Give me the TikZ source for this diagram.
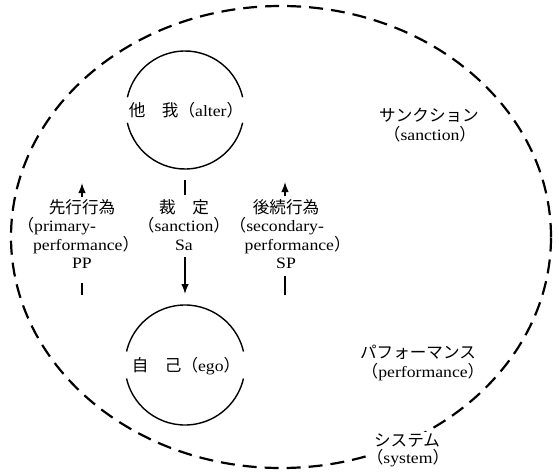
\documentclass[tikz,border=0pt]{standalone}
\usepackage{fontspec}
\setmainfont{Liberation Serif}[FakeStretch=1.12]
\newfontfamily\jpfont{Noto Sans CJK JP}[Scale=1.05]
\newfontfamily\jphalt{Noto Sans CJK JP}[Scale=1.05, RawFeature=+halt]
\usetikzlibrary{arrows.meta}
\newcommand\jtext[1]{{\jpfont #1}}
\newcommand\lpar{{\jphalt （}}
\newcommand\rpar{{\jphalt ）}}
\tikzset{
  lbl/.style={font=\fontsize{15.8}{18.3}\selectfont, align=center, inner sep=0pt},
  ring/.style={line width=1.4pt},
  sys/.style={line width=2.2pt, dash pattern=on 14pt off 8pt},
  ln/.style={line width=1.4pt},
  arr/.style={line width=1.4pt, -{Latex[length=10pt,width=7.5pt]}},
  hole/.style={circle, inner sep=0pt}
}
\begin{document}
\begin{tikzpicture}[x=1pt,y=1pt]
\useasboundingbox (0,0) rectangle (559,-471);
% system boundary
\draw[sys] (281,-237) ellipse [x radius=270, y radius=231];
% alter
\node[hole, minimum size=118pt] (alter) at (185,-110) {};
\draw[ring] ([shift={(12.5:59)}]alter.center) arc[start angle=12.5, end angle=167.5, radius=59];
\draw[ring] ([shift={(192.5:59)}]alter.center) arc[start angle=192.5, end angle=347.5, radius=59];
\node[lbl] (altertxt) at (186,-110) {\jtext{他　我（}alter\jtext{）}};
% ego
\node[hole, minimum size=120pt] (ego) at (185,-365) {};
\draw[ring] ([shift={(13:60)}]ego.center) arc[start angle=13, end angle=167, radius=60];
\draw[ring] ([shift={(193:60)}]ego.center) arc[start angle=193, end angle=347, radius=60];
\node[lbl] (egotxt) at (186,-366) {\jtext{自　己（}ego\jtext{）}};
% columns
\node[lbl] (pp) at (82,-234) {\jtext{先行行為}\\\hspace*{-42pt}\lpar primary-\\performance\rpar\\PP};
\node[lbl] (sa) at (184,-225) {\jtext{裁　定}\\\lpar sanction\rpar\\Sa};
\node[lbl] (sp) at (286,-234) {\jtext{後続行為}\\\hspace*{-10pt}\lpar secondary-\\\hspace*{15pt}performance\rpar\\SP};
% connectors
\coordinate (pa1) at (82,-197); \coordinate (pa2) at (82,-183);
\coordinate (pb1) at (82,-283); \coordinate (pb2) at (82,-295);
\coordinate (ma1) at (185,-180); \coordinate (ma2) at (185,-195);
\coordinate (mb1) at (185,-257); \coordinate (mb2) at (185,-294);
\coordinate (sa1) at (285,-196); \coordinate (sa2) at (285,-182);
\coordinate (sb1) at (285,-276); \coordinate (sb2) at (285,-295);
\draw[arr] (pa1) -- (pa2);
\draw[ln] (pb1) -- (pb2);
\draw[ln] (ma1) -- (ma2);
\draw[arr] (mb1) -- (mb2);
\draw[arr] (sa1) -- (sa2);
\draw[ln] (sb1) -- (sb2);
% right-side labels
\node[lbl] (sanctionj) at (429,-115) {\jtext{サンクション}};
\node[lbl] (sanctione) at (430,-134) {\lpar sanction\rpar};
\node[lbl] (perfj) at (418,-352) {\jtext{パフォーマンス}};
\node[lbl] (perfe) at (423,-372) {\lpar performance\rpar};
\node[lbl, fill=white, inner sep=2pt] (sysj) at (407,-441) {\jtext{システム}};
\node[lbl, fill=white, inner sep=2pt] (syse) at (408,-458) {\lpar system\rpar};
\end{tikzpicture}
\end{document}
